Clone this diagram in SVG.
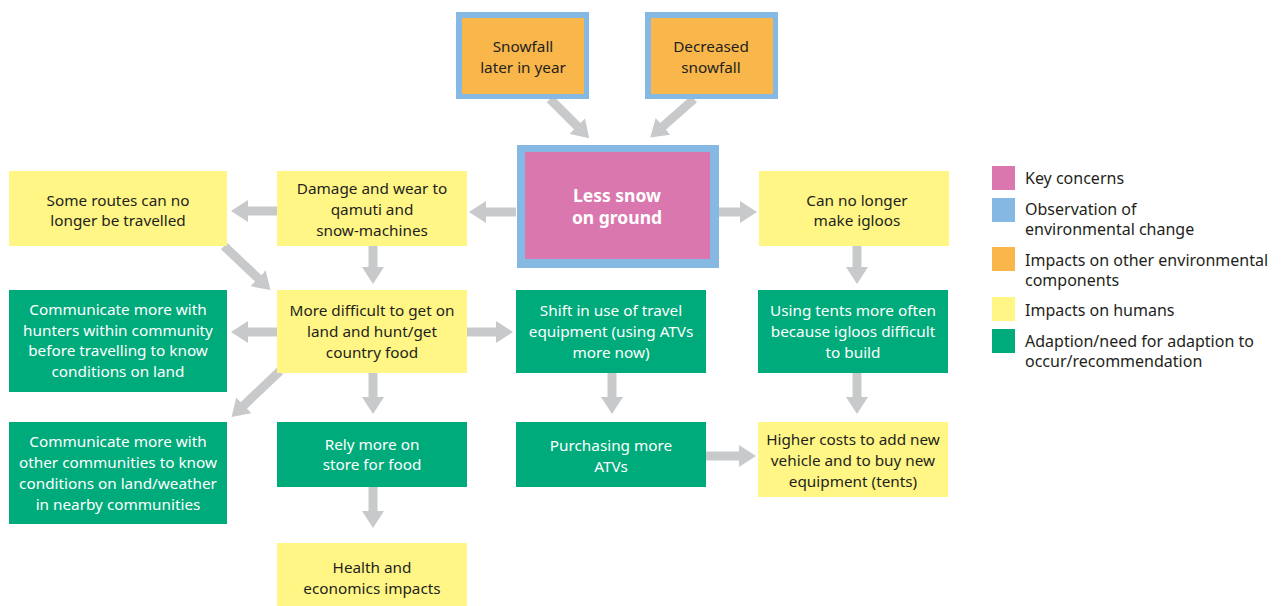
<svg xmlns="http://www.w3.org/2000/svg" width="1283" height="606" viewBox="0 0 1283 606">
  <style>
    .t { font-family: "Noto Sans", "Open Sans", sans-serif; font-size: 15.3px; text-anchor: middle; fill: #231f20; }
    .w { fill: #ffffff; }
    .b { font-weight: bold; font-size: 17.5px; }
    .lg { font-family: "Noto Sans", "Open Sans", sans-serif; font-size: 16px; fill: #231f20; }
    .yel { fill: #fff685; }
    .grn { fill: #00ab7b; }
    .org { fill: #f9b64a; }
    .pnk { fill: #d977ae; }
    .blu { fill: #85b9e3; }
    .arr { stroke: #c8c9cb; stroke-width: 9; fill: none; }
  </style>
  <defs>
    <marker id="head" markerUnits="userSpaceOnUse" markerWidth="18" markerHeight="22" refX="4" refY="11" orient="auto">
      <path d="M0,0 L17,11 L0,22 z" fill="#c8c9cb"/>
    </marker>
  </defs>
  <rect width="1283" height="606" fill="#ffffff"/>

  <g id="connectors">
    <line class="arr" x1="550" y1="99" x2="580" y2="129" marker-end="url(#head)"/>
    <line class="arr" x1="694" y1="99" x2="660" y2="129" marker-end="url(#head)"/>
    <line class="arr" x1="516" y1="212" x2="482" y2="212" marker-end="url(#head)"/>
    <line class="arr" x1="719" y1="212" x2="744" y2="212" marker-end="url(#head)"/>
    <line class="arr" x1="277" y1="211" x2="244" y2="211" marker-end="url(#head)"/>
    <line class="arr" x1="373" y1="246" x2="373" y2="271" marker-end="url(#head)"/>
    <line class="arr" x1="224" y1="246" x2="261" y2="281" marker-end="url(#head)"/>
    <line class="arr" x1="857" y1="246" x2="857" y2="271" marker-end="url(#head)"/>
    <line class="arr" x1="277" y1="332" x2="244" y2="332" marker-end="url(#head)"/>
    <line class="arr" x1="467" y1="332" x2="500" y2="332" marker-end="url(#head)"/>
    <line class="arr" x1="280" y1="371" x2="241" y2="408" marker-end="url(#head)"/>
    <line class="arr" x1="373" y1="373" x2="373" y2="401" marker-end="url(#head)"/>
    <line class="arr" x1="612" y1="373" x2="612" y2="401" marker-end="url(#head)"/>
    <line class="arr" x1="857" y1="373" x2="857" y2="401" marker-end="url(#head)"/>
    <line class="arr" x1="373" y1="487" x2="373" y2="515" marker-end="url(#head)"/>
    <line class="arr" x1="706" y1="456" x2="743" y2="456" marker-end="url(#head)"/>
  </g>

  <g id="snowfall-later">
    <rect class="blu" x="456" y="12" width="133" height="87"/>
    <rect class="org" x="462" y="18" width="122" height="76"/>
    <text class="t" x="523" y="52">Snowfall</text>
    <text class="t" x="523" y="73">later in year</text>
  </g>
  <g id="decreased-snowfall">
    <rect class="blu" x="645" y="12" width="133" height="87"/>
    <rect class="org" x="651" y="18" width="122" height="76"/>
    <text class="t" x="711" y="52">Decreased</text>
    <text class="t" x="711" y="73">snowfall</text>
  </g>
  <g id="less-snow">
    <rect class="blu" x="517" y="145" width="202" height="123"/>
    <rect class="pnk" x="525" y="152" width="185" height="107"/>
    <text class="t w b" x="617" y="202">Less snow</text>
    <text class="t w b" x="617" y="224">on ground</text>
  </g>

  <g id="routes">
    <rect class="yel" x="9" y="171" width="218" height="75"/>
    <text class="t" x="118" y="206">Some routes can no</text>
    <text class="t" x="118" y="226">longer be travelled</text>
  </g>
  <g id="damage">
    <rect class="yel" x="277" y="171" width="190" height="75"/>
    <text class="t" x="372" y="194">Damage and wear to</text>
    <text class="t" x="372" y="215">qamuti and</text>
    <text class="t" x="372" y="236">snow-machines</text>
  </g>
  <g id="igloos">
    <rect class="yel" x="759" y="171" width="190" height="75"/>
    <text class="t" x="857" y="206">Can no longer</text>
    <text class="t" x="857" y="226">make igloos</text>
  </g>

  <g id="hunters">
    <rect class="grn" x="9" y="290" width="218" height="102"/>
    <text class="t w" x="118" y="315">Communicate more with</text>
    <text class="t w" x="118" y="336">hunters within community</text>
    <text class="t w" x="118" y="356">before travelling to know</text>
    <text class="t w" x="118" y="377">conditions on land</text>
  </g>
  <g id="difficult">
    <rect class="yel" x="277" y="290" width="190" height="83"/>
    <text class="t" x="372" y="316">More difficult to get on</text>
    <text class="t" x="372" y="337">land and hunt/get</text>
    <text class="t" x="372" y="358">country food</text>
  </g>
  <g id="shift">
    <rect class="grn" x="516" y="290" width="190" height="83"/>
    <text class="t w" x="611" y="316">Shift in use of travel</text>
    <text class="t w" x="611" y="337">equipment (using ATVs</text>
    <text class="t w" x="611" y="358">more now)</text>
  </g>
  <g id="tents">
    <rect class="grn" x="758" y="290" width="190" height="83"/>
    <text class="t w" x="853" y="316">Using tents more often</text>
    <text class="t w" x="853" y="337">because igloos difficult</text>
    <text class="t w" x="853" y="358">to build</text>
  </g>

  <g id="communities">
    <rect class="grn" x="9" y="422" width="218" height="102"/>
    <text class="t w" x="118" y="447">Communicate more with</text>
    <text class="t w" x="118" y="468">other communities to know</text>
    <text class="t w" x="118" y="489">conditions on land/weather</text>
    <text class="t w" x="118" y="510">in nearby communities</text>
  </g>
  <g id="store">
    <rect class="grn" x="277" y="422" width="190" height="65"/>
    <text class="t w" x="372" y="450">Rely more on</text>
    <text class="t w" x="372" y="470">store for food</text>
  </g>
  <g id="purchasing">
    <rect class="grn" x="516" y="422" width="190" height="65"/>
    <text class="t w" x="611" y="451">Purchasing more</text>
    <text class="t w" x="611" y="472">ATVs</text>
  </g>
  <g id="costs">
    <rect class="yel" x="758" y="422" width="190" height="75"/>
    <text class="t" x="853" y="445">Higher costs to add new</text>
    <text class="t" x="853" y="466">vehicle and to buy new</text>
    <text class="t" x="853" y="487">equipment (tents)</text>
  </g>
  <g id="health">
    <rect class="yel" x="277" y="543" width="190" height="63"/>
    <text class="t" x="372" y="573">Health and</text>
    <text class="t" x="372" y="594">economics impacts</text>
  </g>

  <g id="legend">
    <rect class="pnk" x="992" y="166" width="23" height="24"/>
    <text class="lg" x="1025" y="184">Key concerns</text>
    <rect class="blu" x="992" y="198" width="23" height="24"/>
    <text class="lg" x="1025" y="215">Observation of</text>
    <text class="lg" x="1025" y="235">environmental change</text>
    <rect class="org" x="992" y="247" width="23" height="24"/>
    <text class="lg" x="1025" y="266">Impacts on other environmental</text>
    <text class="lg" x="1025" y="286">components</text>
    <rect class="yel" x="992" y="297" width="23" height="24"/>
    <text class="lg" x="1025" y="316">Impacts on humans</text>
    <rect class="grn" x="992" y="329" width="23" height="24"/>
    <text class="lg" x="1025" y="347">Adaption/need for adaption to</text>
    <text class="lg" x="1025" y="367">occur/recommendation</text>
  </g>
</svg>
